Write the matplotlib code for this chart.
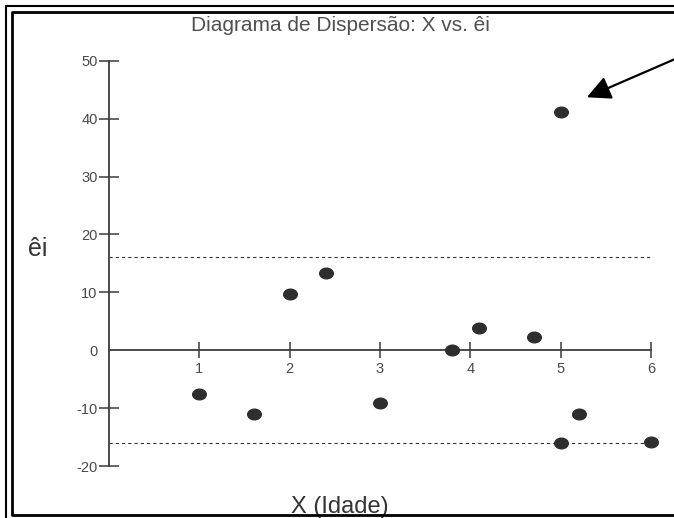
import matplotlib
matplotlib.use("Agg")
import matplotlib.pyplot as plt
from matplotlib.lines import Line2D
from matplotlib.path import Path
from matplotlib.transforms import Affine2D

plt.rcParams['font.family'] = ['Liberation Sans', 'DejaVu Sans']
plt.rcParams['lines.scale_dashes'] = False

# Residuals vs. age
idade = [1.0, 1.6, 2.0, 2.4, 3.0, 3.8, 4.1, 4.7, 5.0, 5.0, 5.2, 6.0]
residuos = [-7.5, -11.0, 9.7, 13.3, -9.2, 0.0, 3.9, 2.3, 41.2, -16.0, -11.1, -15.8]

# Reference limits (+/- 2 standard errors)
limite_sup = 16.1
limite_inf = -16.1

x_ticks = [1, 2, 3, 4, 5, 6]
x_labels = ["1", "2", "3", "4", "5", "6"]
y_ticks = [-20, -10, 0, 10, 20, 30, 40, 50]
y_labels = ["-20", "-10", "0", "10", "20", "30", "40", "50"]

W, H = 674, 518
fig = plt.figure(figsize=(W / 100, H / 100), dpi=100)
fig.patch.set_facecolor("white")


def fx(px):
    return px / W


def fy(py):
    return 1 - py / H


ax = fig.add_axes([fx(109), fy(466), fx(651) - fx(109), fy(60.8) - fy(466)])
ax.set_xlim(0, 6)
ax.set_ylim(-20, 50)
ax.patch.set_visible(False)

axis_col = "#3c3c3c"
for s in ("top", "right"):
    ax.spines[s].set_visible(False)
ax.spines["left"].set_position(("data", 0))
ax.spines["bottom"].set_position(("data", 0))
ax.spines["left"].set_bounds(-20, 50)
ax.spines["bottom"].set_bounds(0, 6)
for s in ("left", "bottom"):
    ax.spines[s].set_color(axis_col)
    ax.spines[s].set_linewidth(1.3)

ax.set_xticks(x_ticks)
ax.set_xticklabels(x_labels)
ax.set_yticks(y_ticks)
ax.set_yticklabels(y_labels)
ax.tick_params(axis="y", direction="inout", length=14.4, width=1.1,
               color=axis_col, pad=1, labelsize=10.5, labelcolor="#4a4a4a")
ax.tick_params(axis="x", direction="inout", length=11.5, width=1.1,
               color=axis_col, pad=2.5, labelsize=10.5, labelcolor="#4a4a4a")
# no tick mark where the two axes cross
for t in ax.yaxis.get_major_ticks():
    if t.get_loc() == 0:
        t.tick1line.set_visible(False)

# dashed limit lines
for lim in (limite_sup, limite_inf):
    ax.plot([0, 6], [lim, lim], color="#333333", lw=0.8,
            dashes=(2.3, 2.2), clip_on=False, zorder=2)

# slightly flattened dot marker
elipse = Path.unit_circle().transformed(Affine2D().scale(1, 0.78))
ax.plot(idade, residuos, linestyle="none", marker=elipse, markersize=9.8,
        color="#2e2e2e", clip_on=False, zorder=3)

# arrow pointing at the outlier
ax.annotate("", xy=(5.29, 43.7), xytext=(6.28, 50.4), xycoords="data",
            textcoords="data", annotation_clip=False,
            arrowprops=dict(arrowstyle="-|>,head_length=0.4,head_width=0.2",
                            mutation_scale=36, lw=1.6, color="black",
                            shrinkA=0, shrinkB=0))

# titles and labels
fig.text(fx(340), fy(31), "Diagrama de Dispersão: X vs. êi", ha="center",
         va="baseline", fontsize=15, color="#505050")
fig.text(fx(28), fy(256), "êi", ha="left", va="baseline", fontsize=18,
         color="#333333")
fig.text(fx(340), fy(513), "X (Idade)", ha="center", va="baseline",
         fontsize=17, color="#333333")

# double frame around the chart (open on the right)
def fline(xs, ys, lw):
    fig.add_artist(Line2D([fx(v) for v in xs], [fy(v) for v in ys],
                          transform=fig.transFigure, color="black", lw=lw,
                          solid_capstyle="butt", zorder=10))


fline([6, 6], [5, 518], 1.5)
fline([5, 674], [6, 6], 1.5)
fline([12.5, 12.5], [11, 515.5], 2.0)
fline([11.5, 674], [11.5, 11.5], 2.0)
fline([11.5, 674], [515, 515], 2.0)

fig.savefig("out.png", dpi=100, facecolor="white")
